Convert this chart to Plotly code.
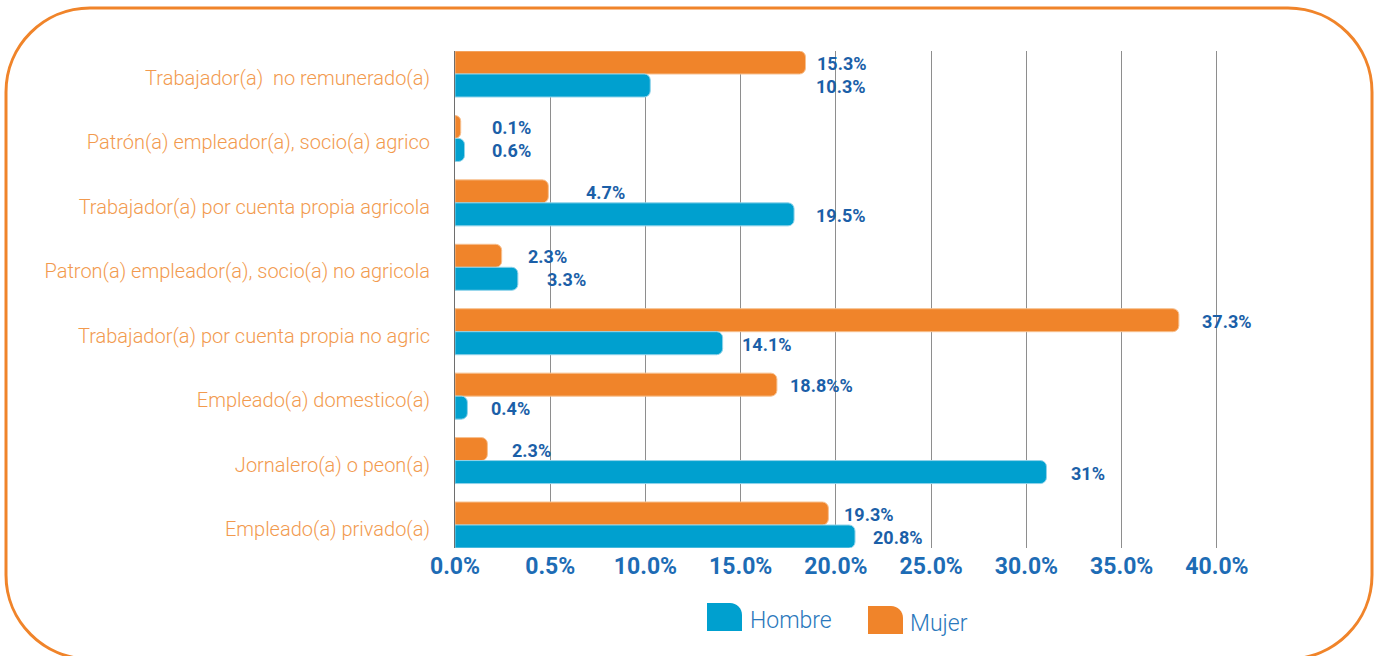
import plotly.graph_objects as go

# ---------------- data ----------------
categories = [
    "Trabajador(a)\u00a0 no remunerado(a)",
    "Patrón(a) empleador(a), socio(a) agrico",
    "Trabajador(a) por cuenta propia agricola",
    "Patron(a) empleador(a), socio(a) no agricola",
    "Trabajador(a) por cuenta propia no agric",
    "Empleado(a) domestico(a)",
    "Jornalero(a) o peon(a)",
    "Empleado(a) privado(a)",
]
# bar lengths as drawn in the picture (percent)
mujer_values = [18.4, 0.3, 4.9, 2.45, 38.0, 16.9, 1.7, 19.6]
hombre_values = [10.25, 0.5, 17.8, 3.3, 14.05, 0.65, 31.05, 21.0]
# printed value labels
mujer_labels = ["15.3%", "0.1%", "4.7%", "2.3%", "37.3%", "18.8%%", "2.3%", "19.3%"]
hombre_labels = ["10.3%", "0.6%", "19.5%", "3.3%", "14.1%", "0.4%", "31%", "20.8%"]
tick_values = [0, 5, 10, 15, 20, 25, 30, 35, 40]
tick_labels = ["0.0%", "0.5%", "10.0%", "15.0%", "20.0%", "25.0%", "30.0%", "35.0%", "40.0%"]
series_names = ["Hombre", "Mujer"]

# ---------------- styles ----------------
ORANGE = "#F0842A"
BLUE = "#00A0CF"
LABEL_BLUE = "#1B5FA8"
TICK_BLUE = "#1D6CB5"
CAT_ORANGE = "#F29A4E"
LEGEND_TEXT = "#2A78BC"

W, H = 1377, 656
ML, MR, MT, MB = 455, 141, 51, 108
PW, PH = W - ML - MR, H - MT - MB
BARGAP = 0.286
group_w = 1 - BARGAP

# pixel offsets of value labels from bar ends (text placement only)
mujer_dx = [9, 29, 36, 24, 21, 11, 23, 14]
hombre_dx = [164, 25, 20, 27, 17, 22, 23, 16]


def P(x, y):
    """pixel -> paper coordinates"""
    return (x - ML) / PW, (H - MB - y) / PH


fig = go.Figure()
fig.add_trace(go.Bar(
    y=categories, x=mujer_values, orientation="h", name=series_names[1],
    marker=dict(color=ORANGE, cornerradius=6, line=dict(color="#F7C08F", width=1)),
    showlegend=False, hoverinfo="skip",
))
fig.add_trace(go.Bar(
    y=categories, x=hombre_values, orientation="h", name=series_names[0],
    marker=dict(color=BLUE, cornerradius=6, line=dict(color="#8FD3EA", width=1)),
    showlegend=False, hoverinfo="skip",
))

LABEL_FONT = dict(family="Roboto", size=18, color=LABEL_BLUE, weight="bold")
annotations = []
for i in range(len(categories)):
    annotations.append(dict(
        x=mujer_values[i], y=i - group_w / 4, xref="x", yref="y",
        text=mujer_labels[i], showarrow=False, xanchor="left", yanchor="middle",
        xshift=mujer_dx[i], yshift=-1, font=LABEL_FONT,
    ))
    annotations.append(dict(
        x=hombre_values[i], y=i + group_w / 4, xref="x", yref="y",
        text=hombre_labels[i], showarrow=False, xanchor="left", yanchor="middle",
        xshift=hombre_dx[i], yshift=-1, font=LABEL_FONT,
    ))

shapes = []


def _f(x, y):
    px, py = P(x, y)
    return f"{px:.5f},{py:.5f}"


def rounded_rect_path(x0, y0, x1, y1, r):
    k = 0.5523 * r
    f = _f
    return (
        f"M {f(x0 + r, y0)} L {f(x1 - r, y0)} "
        f"C {f(x1 - r + k, y0)} {f(x1, y0 + r - k)} {f(x1, y0 + r)} "
        f"L {f(x1, y1 - r)} "
        f"C {f(x1, y1 - r + k)} {f(x1 - r + k, y1)} {f(x1 - r, y1)} "
        f"L {f(x0 + r, y1)} "
        f"C {f(x0 + r - k, y1)} {f(x0, y1 - r + k)} {f(x0, y1 - r)} "
        f"L {f(x0, y0 + r)} "
        f"C {f(x0, y0 + r - k)} {f(x0 + r - k, y0)} {f(x0 + r, y0)} Z"
    )


def swatch_path(x0, y0, x1, y1, r):
    k = 0.5523 * r
    f = _f
    return (
        f"M {f(x0, y0)} L {f(x1 - r, y0)} "
        f"C {f(x1 - r + k, y0)} {f(x1, y0 + r - k)} {f(x1, y0 + r)} "
        f"L {f(x1, y1)} L {f(x0, y1)} Z"
    )


shapes.append(dict(type="path", xref="paper", yref="paper",
                   path=rounded_rect_path(6, 8, 1372, 659, 84),
                   line=dict(color=ORANGE, width=3), fillcolor="rgba(0,0,0,0)", layer="below"))

# custom legend
shapes.append(dict(type="path", xref="paper", yref="paper",
                   path=swatch_path(707, 603, 742, 631, 12),
                   line=dict(width=0), fillcolor=BLUE))
shapes.append(dict(type="path", xref="paper", yref="paper",
                   path=swatch_path(868, 606, 903, 634, 12),
                   line=dict(width=0), fillcolor=ORANGE))
hx, hy = P(748, 620)
mx, my = P(908, 623)
LEG_FONT = dict(family="Roboto", size=23, color=LEGEND_TEXT, weight=300)
annotations.append(dict(x=hx, y=hy, xref="paper", yref="paper", text=series_names[0],
                        showarrow=False, xanchor="left", yanchor="middle", font=LEG_FONT))
annotations.append(dict(x=mx, y=my, xref="paper", yref="paper", text=series_names[1],
                        showarrow=False, xanchor="left", yanchor="middle", font=LEG_FONT))

fig.update_layout(
    width=W, height=H, autosize=False,
    margin=dict(l=ML, r=MR, t=MT, b=MB, pad=0),
    paper_bgcolor="white", plot_bgcolor="white",
    barmode="group", bargap=BARGAP, bargroupgap=0,
    showlegend=False,
    annotations=annotations, shapes=shapes,
    xaxis=dict(
        range=[0, 41], tickvals=tick_values, ticktext=tick_labels,
        showgrid=True, gridcolor="#8E8E8E", gridwidth=1, zeroline=False,
        showline=False, ticks="", ticklabelstandoff=2,
        tickfont=dict(family="Roboto", size=23, color=TICK_BLUE, weight="bold"),
        fixedrange=True,
    ),
    yaxis=dict(
        type="category", categoryorder="array", categoryarray=categories,
        range=[len(categories) - 1 + group_w / 2, -group_w / 2],
        showgrid=False, zeroline=False, showline=True, linecolor="#6E6E6E", linewidth=1,
        ticks="", ticklabelstandoff=20, ticklabelshift=-4,
        tickfont=dict(family="Roboto", size=20, color=CAT_ORANGE, weight=300),
        fixedrange=True,
    ),
)

fig.write_html(
    "out.html",
    config={"displayModeBar": False},
    post_script="document.body.style.margin='0px';document.body.style.overflow='hidden';",
)
